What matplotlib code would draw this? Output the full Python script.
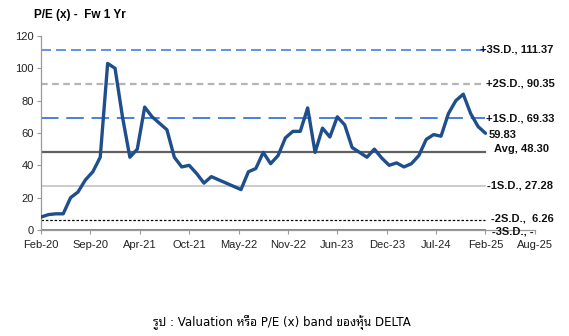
import numpy as np
import matplotlib
matplotlib.use("Agg")
import matplotlib.pyplot as plt

plt.rcParams['font.family'] = ['Liberation Sans', 'DejaVu Sans', 'Noto Sans']

# monthly P/E, Feb-20 .. Feb-25
pe = [8, 9.5, 10, 10, 20, 23.5, 31, 36, 45, 103, 100, 70, 45, 50, 76, 70,
      66, 62, 45, 39, 40, 35, 29, 33, 31, 29, 27, 25, 36, 38, 48, 41, 46,
      57, 61, 61, 75.5, 48, 63, 57.5, 70, 65, 51, 48, 45, 50, 44.5, 40,
      41.5, 39, 41, 46, 56, 59, 58, 72, 80, 84, 72, 64, 59.83]
months = np.arange(len(pe))

tick_labels = ['Feb-20', 'Sep-20', 'Apr-21', 'Oct-21', 'May-22', 'Nov-22',
               'Jun-23', 'Dec-23', 'Jul-24', 'Feb-25', 'Aug-25']
tick_pos = np.arange(len(tick_labels)) * 60 / 9

band_vals = [111.37, 90.35, 69.33, 48.30, 27.28, 6.26, 0]
band_names = ['+3S.D., 111.37', '+2S.D., 90.35', '+1S.D., 69.33', 'Avg, 48.30',
              '-1S.D., 27.28', '-2S.D.,  6.26', '-3S.D., -']
band_colors = ['#4a7fe0', '#b4b4b4', '#4a7fe0', '#606060', '#c4c4c4', '#000000', '#3cb371']
band_styles = [(0, (6, 3)), (0, (3, 2)), (0, (9, 4)), '-', '-', (0, (2, 1.5)), '-']
band_widths = [1.2, 1.6, 1.4, 1.6, 1.2, 0.9, 1.4]
label_dx = [-0.8, 0.1, 0.1, 1.1, 0.2, 0.7, 0.9]
label_dy = [0.3, 0.5, -0.5, 2.0, 0.5, 0.8, -1.0]

fig = plt.figure(figsize=(5.69, 3.36), dpi=100)
ax = fig.add_axes([0.072, 0.3155, 0.868, 0.5775])

x_end = months[-1]
for v, c, ls, lw in zip(band_vals, band_colors, band_styles, band_widths):
    ax.plot([0, x_end], [v, v], color=c, linestyle=ls, linewidth=lw, zorder=2)

ax.plot(months, pe, color='#1f4e8c', linewidth=2.4, solid_capstyle='round',
        solid_joinstyle='round', zorder=3)

for v, name, dx, dy in zip(band_vals, band_names, label_dx, label_dy):
    ax.text(x_end + dx, v + dy, name, fontsize=8, fontweight='bold',
            va='center', ha='left', color='#111111', clip_on=False)
ax.text(x_end + 0.4, pe[-1] - 1, '59.83', fontsize=8, fontweight='bold',
        va='center', ha='left', color='#111111')

ax.set_xlim(0, tick_pos[-1])
ax.set_ylim(0, 120)
ax.set_yticks(range(0, 121, 20))
ax.set_xticks(tick_pos)
ax.set_xticklabels(tick_labels)
ax.tick_params(axis='both', labelsize=8, color='#999999', length=3, pad=2,
               labelcolor='#222222')
ax.tick_params(axis='x', pad=4)
for s in ['top', 'right']:
    ax.spines[s].set_visible(False)
for s in ['left', 'bottom']:
    ax.spines[s].set_color('#999999')
    ax.spines[s].set_linewidth(0.9)

fig.text(0.06, 0.955, 'P/E (x) -  Fw 1 Yr', fontsize=8.5, fontweight='bold',
         va='center', ha='left')
fig.text(0.495, 0.04, 'รูป : Valuation หรือ P/E (x) band ของหุ้น DELTA',
         fontsize=8.5, ha='center', va='center',
         family=['DejaVu Sans', 'Noto Sans Thai Looped'])

fig.savefig('out.png', dpi=100)
